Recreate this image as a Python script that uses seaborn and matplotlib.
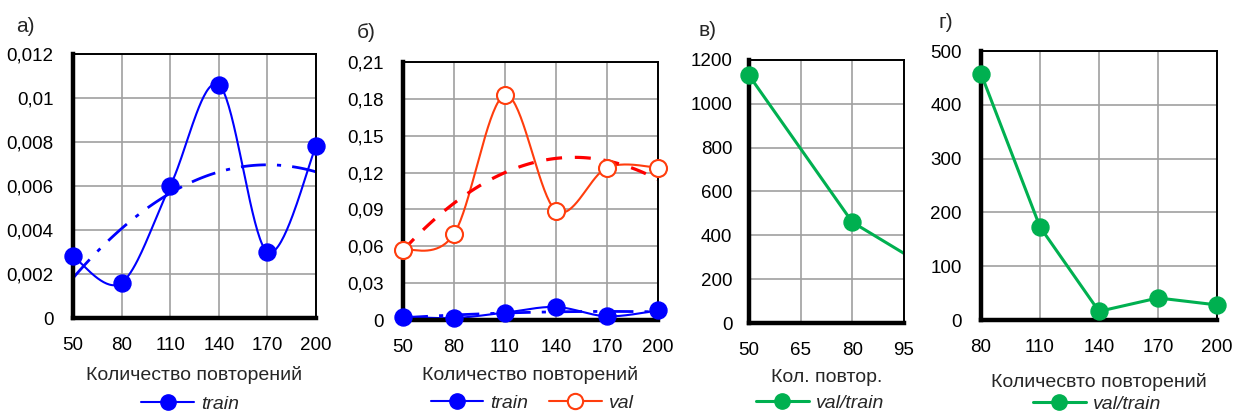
import numpy as np
import matplotlib
matplotlib.use("Agg")
import matplotlib.pyplot as plt
from matplotlib.lines import Line2D
import seaborn as sns

# ---- data ----
reps_ab = [50, 80, 110, 140, 170, 200]
train = [0.0028, 0.0016, 0.0060, 0.0106, 0.0030, 0.0078]
val = [0.057, 0.070, 0.183, 0.089, 0.124, 0.124]

reps_c = [50, 80, 110]
ratio_c = [1130, 460, 175]

reps_d = ["80", "110", "140", "170", "200"]
ratio_d = [458, 173, 16, 41, 28]

panel_labels = ["а)", "б)", "в)", "г)"]
xlabels = ["Количество повторений", "Количество повторений", "Кол. повтор.", "Количесвто повторений"]

BLUE = "#0000FF"
ORANGE = "#FF3D0D"
RED = "#FF0000"
GREEN = "#00B050"

sns.set_theme(style="white")
plt.rcParams['font.family'] = ['Liberation Sans', 'DejaVu Sans']
plt.rcParams['axes.unicode_minus'] = False

fig = plt.figure(figsize=(12.33, 4.15), dpi=100)
W, H = 1233, 415


def add_ax(l, r, t, b):
    return fig.add_axes([l / W, (H - b) / H, (r - l) / W, (b - t) / H])


def smooth(x, y, xr, yr, n=40):
    # Catmull-Rom style smoothing in normalized space (rendering only)
    xs = (np.asarray(x, float) - xr[0]) / (xr[1] - xr[0])
    ys = (np.asarray(y, float) - yr[0]) / (yr[1] - yr[0])
    P = np.column_stack([xs, ys])
    P = np.vstack([P[0], P, P[-1]])
    out = []
    for i in range(1, len(P) - 2):
        p0, p1, p2, p3 = P[i - 1], P[i], P[i + 1], P[i + 2]
        c1 = p1 + (p2 - p0) / 6.0
        c2 = p2 - (p3 - p1) / 6.0
        t = np.linspace(0, 1, n)[:, None]
        seg = ((1 - t) ** 3) * p1 + 3 * ((1 - t) ** 2) * t * c1 + 3 * (1 - t) * t ** 2 * c2 + t ** 3 * p2
        out.append(seg if i == 1 else seg[1:])
    S = np.vstack(out)
    return S[:, 0] * (xr[1] - xr[0]) + xr[0], S[:, 1] * (yr[1] - yr[0]) + yr[0]


def style_ax(ax, ypad=14):
    ax.grid(True, color="#A0A0A0", linewidth=1.2)
    ax.set_axisbelow(True)
    for s in ["left", "bottom"]:
        ax.spines[s].set_linewidth(3.2)
        ax.spines[s].set_color("black")
        ax.spines[s].set_zorder(5)
    for s in ["top", "right"]:
        ax.spines[s].set_linewidth(1.4)
        ax.spines[s].set_color("black")
    ax.tick_params(axis="both", length=0, labelsize=13.5, colors="black")
    ax.tick_params(axis="x", pad=14)
    ax.tick_params(axis="y", pad=ypad)


def place_xlabel(ax, text, bottom_px, height_px, center_px):
    ax.set_xlabel(text, fontsize=14)
    ax.xaxis.set_label_coords(0.5, -(center_px - bottom_px) / height_px)
    ax.xaxis.label.set_va("center")


def place_legend(handles, labels, xc, yc):
    fig.legend(handles, labels, loc="center", bbox_to_anchor=(xc / W, 1 - yc / H), frameon=False,
               ncol=len(handles), handlelength=2.7, prop={"style": "italic", "size": 14},
               handletextpad=0.35, columnspacing=1.1, borderpad=0, borderaxespad=0)


def trend(x, y):
    c = np.polyfit(x, y, 2)
    xx = np.linspace(min(x), max(x), 100)
    return xx, np.polyval(c, xx)


def ylab_fmt(vals, dec):
    out = []
    for v in vals:
        if abs(v) < 1e-12:
            out.append("0")
        else:
            s = f"{v:.{dec}f}".rstrip("0")
            out.append(s.replace(".", ","))
    return out


DASHDOT = (0, (9, 4, 1.5, 4))

# ---------- panel a ----------
ax = add_ax(73, 316, 54, 318)
style_ax(ax)
xr = (50, 200); yr = (0, 0.012)
sx, sy = smooth(reps_ab, train, xr, yr)
sns.lineplot(x=sx, y=sy, sort=False, estimator=None, color=BLUE, lw=1.5, ax=ax)
tx, ty = trend(reps_ab, train)
sns.lineplot(x=tx, y=ty, sort=False, estimator=None, color=BLUE, lw=2.0, ax=ax, linestyle=DASHDOT)
sns.scatterplot(x=reps_ab, y=train, color=BLUE, s=150, edgecolor=BLUE, zorder=6, clip_on=False, ax=ax)
ax.set_xlim(*xr); ax.set_ylim(*yr)
ax.set_xticks(reps_ab)
yt = np.arange(0, 0.0121, 0.002)
ax.set_yticks(yt); ax.set_yticklabels(ylab_fmt(yt, 3))
place_xlabel(ax, xlabels[0], 318, 264, 375)
h = [Line2D([0], [0], color=BLUE, lw=1.5, marker="o", ms=11, mfc=BLUE, mec=BLUE)]
place_legend(h, ["train"], 190, 404)
fig.text(25 / W, 1 - 27 / H, panel_labels[0], fontsize=15, ha="center", va="center")

# ---------- panel б ----------
ax = add_ax(403, 658, 62, 320)
style_ax(ax)
xr = (50, 200); yr = (0, 0.21)
sx, sy = smooth(reps_ab, val, xr, yr)
sns.lineplot(x=sx, y=sy, sort=False, estimator=None, color=ORANGE, lw=1.5, ax=ax)
tx, ty = trend(reps_ab, val)
sns.lineplot(x=tx, y=ty, sort=False, estimator=None, color=RED, lw=2.3, ax=ax, linestyle=(0, (5, 4)))
sx, sy = smooth(reps_ab, train, xr, yr)
sns.lineplot(x=sx, y=sy, sort=False, estimator=None, color=BLUE, lw=1.5, ax=ax)
tx, ty = trend(reps_ab, train)
sns.lineplot(x=tx, y=ty, sort=False, estimator=None, color=BLUE, lw=2.0, ax=ax, linestyle=DASHDOT)
sns.scatterplot(x=reps_ab, y=val, color="white", s=150, edgecolor=ORANGE, linewidth=1.5, zorder=6,
                clip_on=False, ax=ax)
sns.scatterplot(x=reps_ab, y=train, color=BLUE, s=150, edgecolor=BLUE, zorder=7, clip_on=False, ax=ax)
ax.set_xlim(*xr); ax.set_ylim(*yr)
ax.set_xticks(reps_ab)
yt = np.arange(0, 0.2101, 0.03)
ax.set_yticks(yt); ax.set_yticklabels(ylab_fmt(yt, 2))
place_xlabel(ax, xlabels[1], 320, 258, 375)
h = [Line2D([0], [0], color=BLUE, lw=1.5, marker="o", ms=11, mfc=BLUE, mec=BLUE),
     Line2D([0], [0], color=ORANGE, lw=1.5, marker="o", ms=11, mfc="white", mec=ORANGE, mew=1.5)]
place_legend(h, ["train", "val"], 532, 403)
fig.text(366 / W, 1 - 32 / H, panel_labels[1], fontsize=15, ha="center", va="center")

# ---------- panel в ----------
ax = add_ax(749, 904, 60, 323)
style_ax(ax, ypad=12)
sns.lineplot(x=reps_c, y=ratio_c, color=GREEN, lw=2.2, ax=ax)
vis = [(x, y) for x, y in zip(reps_c, ratio_c) if x <= 95]
sns.scatterplot(x=[v[0] for v in vis], y=[v[1] for v in vis], color=GREEN, s=150, edgecolor=GREEN,
                zorder=6, clip_on=False, ax=ax)
ax.set_xlim(50, 95); ax.set_ylim(0, 1200)
ax.set_xticks([50, 65, 80, 95])
ax.set_yticks(np.arange(0, 1201, 200))
place_xlabel(ax, xlabels[2], 323, 263, 377)
h = [Line2D([0], [0], color=GREEN, lw=2.2, marker="o", ms=11, mfc=GREEN, mec=GREEN)]
place_legend(h, ["val/train"], 820, 403)
fig.text(707 / W, 1 - 30 / H, panel_labels[2], fontsize=15, ha="center", va="center")

# ---------- panel г ----------
ax = add_ax(981, 1217, 51, 320)
style_ax(ax)
pos = np.arange(len(reps_d))
sns.lineplot(x=pos, y=ratio_d, color=GREEN, lw=2.2, ax=ax)
sns.scatterplot(x=pos, y=ratio_d, color=GREEN, s=150, edgecolor=GREEN, zorder=6, clip_on=False, ax=ax)
ax.set_xlim(0, len(reps_d) - 1); ax.set_ylim(0, 500)
ax.set_xticks(pos); ax.set_xticklabels(reps_d)
ax.set_yticks(np.arange(0, 501, 100))
place_xlabel(ax, xlabels[3], 320, 269, 382)
h = [Line2D([0], [0], color=GREEN, lw=2.2, marker="o", ms=11, mfc=GREEN, mec=GREEN)]
place_legend(h, ["val/train"], 1097, 404)
fig.text(946 / W, 1 - 23 / H, panel_labels[3], fontsize=15, ha="center", va="center")

fig.savefig("out.png", dpi=100)
